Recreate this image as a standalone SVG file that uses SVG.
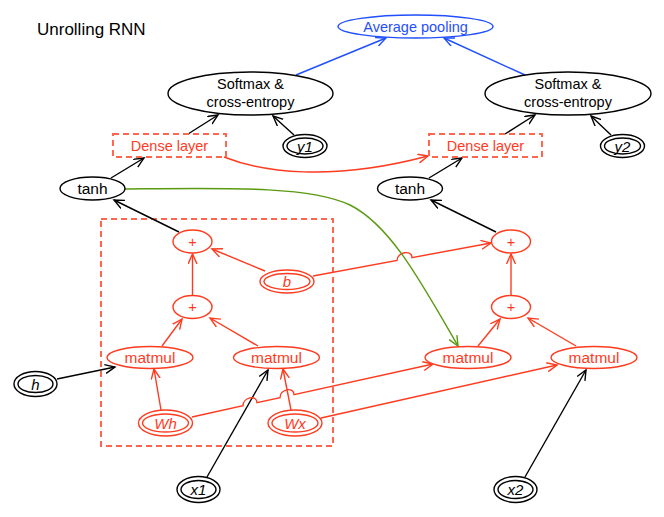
<svg xmlns="http://www.w3.org/2000/svg" width="664" height="517" viewBox="0 0 664 517">
<style>
text{font-family:"Liberation Sans",Arial,sans-serif;text-anchor:middle;}
.k{fill:#000;} .r{fill:#ff3b1f;} .bl{fill:#1f4fff;}
.it{font-style:italic;font-size:15px;}
.f{font-size:14.5px;}
.nk{fill:#fff;stroke:#000;stroke-width:1.4;}
.nr{fill:#fff;stroke:#ff3b1f;stroke-width:1.4;}
.nb{fill:#fff;stroke:#1f4fff;stroke-width:1.4;}
.dash{fill:none;stroke:#ff6650;stroke-width:2;stroke-dasharray:6,4;}
.ek{fill:none;stroke:#000;stroke-width:1.4;}
.er{fill:none;stroke:#ff3b1f;stroke-width:1.4;}
.eb{fill:none;stroke:#1f4fff;stroke-width:1.4;}
.eg{fill:none;stroke:#5a9a10;stroke-width:1.4;}
</style>
<defs>
<marker id="ak" markerUnits="userSpaceOnUse" markerWidth="12" markerHeight="12" refX="10" refY="5" orient="auto"><path d="M0,0.5 L10,5 L0,9.5" fill="none" stroke="#000" stroke-width="1.4"/></marker>
<marker id="ar" markerUnits="userSpaceOnUse" markerWidth="12" markerHeight="12" refX="10" refY="5" orient="auto"><path d="M0,0.5 L10,5 L0,9.5" fill="none" stroke="#ff3b1f" stroke-width="1.4"/></marker>
<marker id="ab" markerUnits="userSpaceOnUse" markerWidth="12" markerHeight="12" refX="10" refY="5" orient="auto"><path d="M0,0.5 L10,5 L0,9.5" fill="none" stroke="#1f4fff" stroke-width="1.4"/></marker>
<marker id="ag" markerUnits="userSpaceOnUse" markerWidth="12" markerHeight="12" refX="10" refY="5" orient="auto"><path d="M0,0.5 L10,5 L0,9.5" fill="none" stroke="#5a9a10" stroke-width="1.4"/></marker>
</defs>
<rect width="664" height="517" fill="#fff"/>
<text x="37" y="35" style="text-anchor:start;font-size:17px" class="k">Unrolling RNN</text>
<rect id="cluster" class="dash" x="101" y="219" width="232" height="227"/>

<g id="connectors">
<path class="ek" marker-end="url(#ak)" d="M111,178 L144,158"/>
<path class="ek" marker-end="url(#ak)" d="M188,134 L218,115"/>
<path class="ek" marker-end="url(#ak)" d="M294,135 L273,116"/>
<path class="ek" marker-end="url(#ak)" d="M179,232 L114,200"/>
<path class="ek" marker-end="url(#ak)" d="M57,379 L115,367"/>
<path class="ek" marker-end="url(#ak)" d="M207,477 L268,370"/>
<path class="ek" marker-end="url(#ak)" d="M429,178 L462,158"/>
<path class="ek" marker-end="url(#ak)" d="M505,134 L535,115"/>
<path class="ek" marker-end="url(#ak)" d="M611,135 L591,116"/>
<path class="ek" marker-end="url(#ak)" d="M496,232 L431,200"/>
<path class="ek" marker-end="url(#ak)" d="M525,477 L586,370"/>
<path class="eb" marker-end="url(#ab)" d="M296,75 L386,38"/>
<path class="eb" marker-end="url(#ab)" d="M525,75 L444,38"/>
<path class="er" marker-end="url(#ar)" d="M224,157 C262,172 330,182 428,156"/>
<path class="er" marker-end="url(#ar)" d="M192.5,296 L192.5,254"/>
<path class="er" marker-end="url(#ar)" d="M265,271 L212,249"/>
<path class="er" marker-end="url(#ar)" d="M313,276 L397,260.4 C397,252 412,249.5 412,257.6 L491,243"/>
<path class="er" marker-end="url(#ar)" d="M162,346 L182,319"/>
<path class="er" marker-end="url(#ar)" d="M258,346 L210,318"/>
<path class="er" marker-end="url(#ar)" d="M161,410 L154,369"/>
<path class="er" marker-end="url(#ar)" d="M291,410 L283,369"/>
<path class="er" marker-end="url(#ar)" d="M192,417 L243,405.8 C243,397 257,394.5 257,402.7 L280,397.6 C280,389 294,386.5 294,394.6 L433,364"/>
<path class="er" marker-end="url(#ar)" d="M321,418 L557,365"/>
<path class="er" marker-end="url(#ar)" d="M478,346 L500,319"/>
<path class="er" marker-end="url(#ar)" d="M576,346 L528,318"/>
<path class="er" marker-end="url(#ar)" d="M511,296 L511,254"/>
<path class="eg" marker-end="url(#ag)" d="M125,189 C230,188 310,186 350,205 C390,225 420,280 458,346"/>
</g>

<g id="avgpool"><ellipse class="nb" cx="415.5" cy="26.5" rx="77.5" ry="11.5"/><text class="bl f" x="415.5" y="31.5">Average pooling</text></g>
<g id="softmax1"><ellipse class="nk" cx="250.5" cy="93.5" rx="82.5" ry="21.5"/><text class="k f" x="250.5" y="89">Softmax &amp;</text><text class="k f" x="250.5" y="106.5">cross-entropy</text></g>
<g id="softmax2"><ellipse class="nk" cx="568" cy="93.5" rx="83" ry="21.5"/><text class="k f" x="568" y="89">Softmax &amp;</text><text class="k f" x="568" y="106.5">cross-entropy</text></g>
<g id="y1"><ellipse class="nk" cx="305" cy="146" rx="22" ry="11.5"/><ellipse class="nk" cx="305" cy="146" rx="18" ry="8"/><text class="k it" x="305" y="151.5">y1</text></g>
<g id="y2"><ellipse class="nk" cx="622.5" cy="146" rx="22" ry="11.5"/><ellipse class="nk" cx="622.5" cy="146" rx="18" ry="8"/><text class="k it" x="622.5" y="151.5">y2</text></g>
<g id="dense1"><rect class="dash" x="113" y="134" width="113" height="23" fill="#fff"/><text class="r f" x="169.5" y="150.5">Dense layer</text></g>
<g id="dense2"><rect class="dash" x="429" y="134" width="113" height="23" fill="#fff"/><text class="r f" x="485.5" y="150.5">Dense layer</text></g>
<g id="tanh1"><ellipse class="nk" cx="92.5" cy="188.5" rx="32.5" ry="11.5"/><text class="k" style="font-size:15.5px" x="92.5" y="194">tanh</text></g>
<g id="tanh2"><ellipse class="nk" cx="410" cy="188.5" rx="32.5" ry="11.5"/><text class="k" style="font-size:15.5px" x="410" y="194">tanh</text></g>
<g id="plus1"><ellipse class="nr" cx="192.5" cy="241.5" rx="19.5" ry="11.5"/><text class="r f" x="192.5" y="246.5">+</text></g>
<g id="plus2"><ellipse class="nr" cx="192.5" cy="307" rx="19.5" ry="11.5"/><text class="r f" x="192.5" y="312">+</text></g>
<g id="plus3"><ellipse class="nr" cx="511" cy="241.5" rx="19.5" ry="11.5"/><text class="r f" x="511" y="246.5">+</text></g>
<g id="plus4"><ellipse class="nr" cx="511" cy="307" rx="19.5" ry="11.5"/><text class="r f" x="511" y="312">+</text></g>
<g id="b"><ellipse class="nr" cx="287" cy="281.5" rx="27" ry="11.5"/><ellipse class="nr" cx="287" cy="281.5" rx="23" ry="8"/><text class="r it" x="287" y="287">b</text></g>
<g id="matmul1"><ellipse class="nr" cx="150" cy="357.5" rx="43" ry="11"/><text class="r" style="font-size:15.5px" x="150" y="363">matmul</text></g>
<g id="matmul2"><ellipse class="nr" cx="276.5" cy="357.5" rx="43" ry="11"/><text class="r" style="font-size:15.5px" x="276.5" y="363">matmul</text></g>
<g id="matmul3"><ellipse class="nr" cx="468" cy="357.5" rx="43" ry="11"/><text class="r" style="font-size:15.5px" x="468" y="363">matmul</text></g>
<g id="matmul4"><ellipse class="nr" cx="594" cy="357.5" rx="43" ry="11"/><text class="r" style="font-size:15.5px" x="594" y="363">matmul</text></g>
<g id="h"><ellipse class="nk" cx="35.5" cy="384" rx="21.5" ry="12.5"/><ellipse class="nk" cx="35.5" cy="384" rx="17.5" ry="8.5"/><text class="k it" x="35.5" y="389.5">h</text></g>
<g id="Wh"><ellipse class="nr" cx="165.5" cy="423" rx="27" ry="13"/><ellipse class="nr" cx="165.5" cy="423" rx="23" ry="9"/><text class="r it" x="165.5" y="428.5">Wh</text></g>
<g id="Wx"><ellipse class="nr" cx="295" cy="423" rx="27" ry="13"/><ellipse class="nr" cx="295" cy="423" rx="23" ry="9"/><text class="r it" x="295" y="428.5">Wx</text></g>
<g id="x1"><ellipse class="nk" cx="198.5" cy="489.5" rx="21.5" ry="13"/><ellipse class="nk" cx="198.5" cy="489.5" rx="17.5" ry="9"/><text class="k it" x="198.5" y="495">x1</text></g>
<g id="x2"><ellipse class="nk" cx="515.5" cy="489.5" rx="21.5" ry="13"/><ellipse class="nk" cx="515.5" cy="489.5" rx="17.5" ry="9"/><text class="k it" x="515.5" y="495">x2</text></g>
</svg>
